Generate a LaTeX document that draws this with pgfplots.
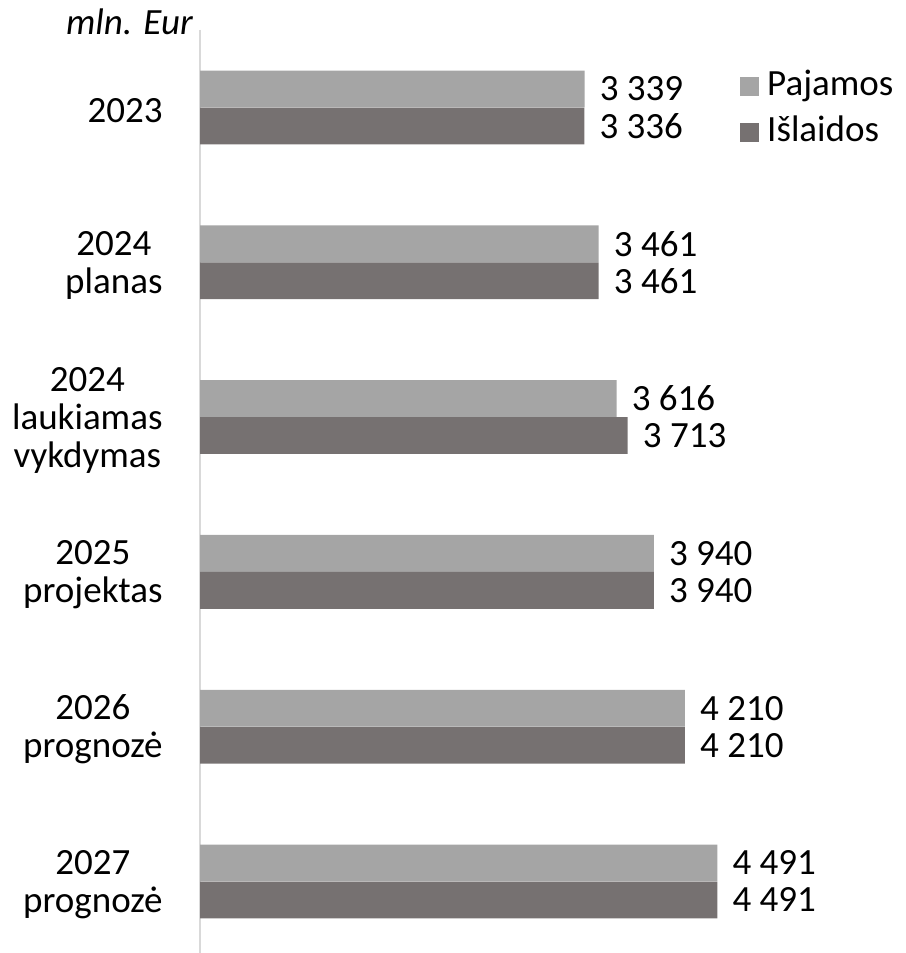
\documentclass[border=0pt]{standalone}
\usepackage{pgfplots}
\pgfplotsset{compat=1.18}
\usepackage{fontspec}
\setmainfont{Carlito}
\definecolor{paj}{HTML}{A5A5A5}
\definecolor{isl}{HTML}{767171}
\definecolor{axl}{HTML}{D9D9D9}
\newcommand{\bigf}{\fontsize{37}{38}\selectfont}
\begin{document}
\begin{tikzpicture}
\useasboundingbox (0,0) rectangle (905pt,953pt);
\begin{axis}[
  at={(200pt,0pt)}, anchor=south west,
  scale only axis, width=691.2pt, height=923pt,
  xmin=0, xmax=6000, ymin=-0.5, ymax=5.462, y dir=reverse,
  axis x line=none, axis y line=left,
  y axis line style={-, draw=axl, line width=1.5pt},
  ytick={0,...,5},
  yticklabels={{2023}, {2024\\planas}, {2024\\laukiamas\\vykdymas}, {2025\\projektas}, {2026\\prognozė}, {2027\\prognozė}},
  yticklabel style={align=center, anchor=east, inner sep=0pt, xshift=-33pt, yshift=-3pt, font=\bigf, text=black},
  ytick style={draw=none},
  xbar, bar width=36.8pt, bar shift=0pt,
  point meta=explicit symbolic,
  nodes near coords,
  every node near coord/.append style={anchor=west, inner sep=0pt, xshift=15pt, font=\bigf, text=black},
  clip=false,
  legend cell align=left,
  legend image code/.code={\fill[#1] (0pt,-9.5pt) rectangle (19pt,9.5pt);},
  legend style={draw=none, fill=none, at={(0.7813,0.9577)}, anchor=north west, inner sep=0pt, font=\bigf, row sep=12pt, column sep=0pt, nodes={inner sep=0pt, text height=26pt, text depth=8pt}},
]
\addplot[fill=paj, draw=none] coordinates {(3339,-0.1195) [3 339] (3461,0.8805) [3 461] (3616,1.8805) [3 616] (3940,2.8805) [3 940] (4210,3.8805) [4 210] (4491,4.8805) [4 491]};
\addlegendentry{\hspace{8pt}Pajamos}
\addplot[fill=isl, draw=none] coordinates {(3336,0.1195) [3 336] (3461,1.1195) [3 461] (3713,2.1195) [3 713] (3940,3.1195) [3 940] (4210,4.1195) [4 210] (4491,5.1195) [4 491]};
\addlegendentry{\hspace{8pt}Išlaidos}
\end{axis}
\node[anchor=base east, inner sep=0pt, font=\bigf\itshape] at (193pt,918pt) {mln. Eur};
\end{tikzpicture}
\end{document}
